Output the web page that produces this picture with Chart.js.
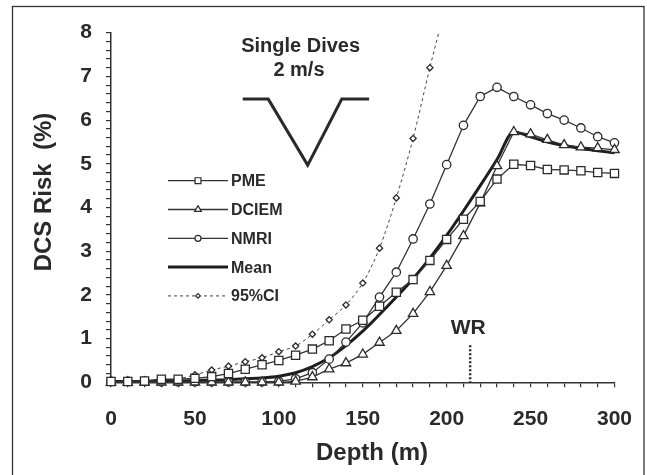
<!DOCTYPE html>
<html>
<head>
<meta charset="utf-8">
<script src="https://cdn.jsdelivr.net/npm/chart.js@4.4.0/dist/chart.umd.min.js"></script>
<style>
  html, body { margin: 0; padding: 0; background: #fff; }
  canvas { display: block; }
</style>
</head>
<body>
<canvas id="riskChart" width="647" height="475"></canvas>
<script>
// Depth (m) every 10 m
const depths = [0, 10, 20, 30, 40, 50, 60, 70, 80, 90, 100, 110, 120, 130, 140, 150,
  160, 170, 180, 190, 200, 210, 220, 230, 240, 250, 260, 270, 280, 290, 300];

// DCS risk (%)
const pme = [0.02, 0.02, 0.03, 0.07, 0.07, 0.09, 0.13, 0.2, 0.3, 0.4, 0.5, 0.62, 0.76, 0.95,
  1.22, 1.42, 1.74, 2.06, 2.35, 2.79, 3.27, 3.73, 4.14, 4.65, 4.99, 4.96, 4.87, 4.86, 4.84, 4.8, 4.78];
const dciem = [0, 0, 0, 0, 0, 0, 0, 0, 0, 0, 0, 0.02, 0.12, 0.3, 0.44, 0.64, 0.91, 1.18,
  1.57, 2.07, 2.67, 3.35, 4.1, 4.95, 5.73, 5.68, 5.55, 5.43, 5.38, 5.36, 5.32];
const nmri = [0.02, 0.02, 0.02, 0.01, 0.01, 0.01, 0.01, 0.01, 0.01, 0.01, 0.02, 0.08, 0.22,
  0.53, 0.92, 1.36, 1.95, 2.52, 3.28, 4.08, 4.98, 5.88, 6.54, 6.75, 6.54, 6.35, 6.15, 6.0, 5.82, 5.62, 5.48];
const meanRisk = [0.02, 0.02, 0.02, 0.03, 0.03, 0.04, 0.05, 0.06, 0.08, 0.1, 0.14, 0.22, 0.36,
  0.56, 0.84, 1.17, 1.55, 1.95, 2.37, 2.84, 3.36, 3.92, 4.5, 5.1, 5.73, 5.62, 5.5, 5.42, 5.35, 5.3, 5.25];
const ciDepths = [0, 10, 20, 30, 40, 50, 60, 70, 80, 90, 100, 110, 120, 130, 140, 150, 160, 170, 180, 190, 200];
const ci95 = [0.03, 0.03, 0.04, 0.05, 0.08, 0.17, 0.28, 0.37, 0.47, 0.56, 0.7, 0.83, 1.1, 1.43,
  1.77, 2.27, 3.07, 4.22, 5.58, 7.2, 8.7];

const seriesNames = ['PME', 'DCIEM', 'NMRI', 'Mean', '95%CI'];

// WR depth marker and the dive profile sketch (depth, risk units)
const wrDepth = 214;
const profileX = [78.5, 93.7, 117.2, 137.5, 153.8];
const profileY = [6.48, 6.48, 4.97, 6.48, 6.48];

const FONT = "'Liberation Sans', Arial, sans-serif";
const ink = '#2a2a2a';
const markClip = { left: 10, top: 0, right: 10, bottom: 10 };

function pts(ys, xs) {
  return ys.map((v, i) => ({ x: xs[i], y: v }));
}

const markerSeries = {
  borderColor: '#333',
  borderWidth: 1.3,
  pointBackgroundColor: '#fff',
  pointBorderColor: ink,
  pointBorderWidth: 1.3,
  tension: 0,
  clip: markClip
};

const decorPlugin = {
  id: 'decor',
  afterDraw(chart) {
    const { ctx, scales: { x, y } } = chart;
    ctx.save();

    // outer frame
    ctx.strokeStyle = '#333';
    ctx.lineWidth = 1.3;
    ctx.strokeRect(12.5, 6.5, 631.5, 500);

    ctx.fillStyle = ink;
    ctx.textAlign = 'center';
    ctx.textBaseline = 'middle';

    // axis titles
    ctx.save();
    ctx.translate(44, 192);
    ctx.rotate(-Math.PI / 2);
    ctx.font = 'bold 24px ' + FONT;
    ctx.fillText('DCS Risk  (%)', 0, 0);
    ctx.restore();
    ctx.font = 'bold 24px ' + FONT;
    ctx.fillText('Depth (m)', 372, 453);

    // inset label + profile
    ctx.font = 'bold 20px ' + FONT;
    ctx.fillText('Single Dives', x.getPixelForValue(113), y.getPixelForValue(7.68));
    ctx.fillText('2 m/s', x.getPixelForValue(112), y.getPixelForValue(7.13));
    ctx.strokeStyle = ink;
    ctx.lineWidth = 3;
    ctx.beginPath();
    profileX.forEach((d, i) => {
      const px = x.getPixelForValue(d), py = y.getPixelForValue(profileY[i]);
      if (i === 0) ctx.moveTo(px, py); else ctx.lineTo(px, py);
    });
    ctx.stroke();

    // WR marker
    const wx = x.getPixelForValue(wrDepth);
    ctx.font = 'bold 21px ' + FONT;
    ctx.fillText('WR', wx - 2, y.getPixelForValue(1.24));
    ctx.setLineDash([2, 2]);
    ctx.lineWidth = 2.5;
    ctx.beginPath();
    ctx.moveTo(wx, y.getPixelForValue(0.85));
    ctx.lineTo(wx, y.getPixelForValue(0));
    ctx.stroke();
    ctx.setLineDash([]);

    // legend
    ctx.font = 'bold 16px ' + FONT;
    ctx.textAlign = 'left';
    chart.data.datasets.forEach((ds, i) => {
      const ly = 180.7 + i * 28.8;
      ctx.strokeStyle = ds.borderColor;
      ctx.lineWidth = ds.borderWidth;
      ctx.setLineDash(ds.borderDash || []);
      ctx.beginPath();
      ctx.moveTo(168, ly);
      ctx.lineTo(228, ly);
      ctx.stroke();
      ctx.setLineDash([]);
      if (ds.pointRadius > 0) {
        ctx.fillStyle = '#fff';
        ctx.strokeStyle = ink;
        ctx.lineWidth = 1.2;
        Chart.helpers.drawPoint(ctx, {
          pointStyle: ds.pointStyle, radius: ds.pointRadius * 0.72,
          borderWidth: 1.2, rotation: 0
        }, 198, ly);
      }
      ctx.fillStyle = ink;
      ctx.fillText(ds.label, 231, ly + 1);
    });

    ctx.restore();
  }
};

new Chart(document.getElementById('riskChart'), {
  type: 'line',
  data: {
    datasets: [
      Object.assign({ label: seriesNames[0], data: pts(pme, depths), pointStyle: 'rect', pointRadius: 5.8 }, markerSeries),
      Object.assign({ label: seriesNames[1], data: pts(dciem, depths), pointStyle: 'triangle', pointRadius: 5.4 }, markerSeries),
      Object.assign({ label: seriesNames[2], data: pts(nmri, depths), pointStyle: 'circle', pointRadius: 4.2 }, markerSeries),
      {
        label: seriesNames[3], data: pts(meanRisk, depths),
        borderColor: '#1e1e1e', borderWidth: 3, pointRadius: 0,
        cubicInterpolationMode: 'monotone', clip: markClip
      },
      {
        label: seriesNames[4], data: pts(ci95, ciDepths),
        borderColor: '#444', borderWidth: 1, borderDash: [3, 3],
        pointStyle: 'rectRot', pointRadius: 3.1, pointBackgroundColor: '#fff',
        pointBorderColor: ink, pointBorderWidth: 1.3, tension: 0.3, clip: markClip
      }
    ]
  },
  options: {
    responsive: false,
    animation: false,
    layout: { padding: { top: 32.7, right: 32.5, left: 0, bottom: 0 } },
    plugins: {
      legend: { display: false },
      tooltip: { enabled: false }
    },
    scales: {
      x: {
        type: 'linear',
        min: 0,
        max: 300,
        afterFit: (s) => { s.height = 92.7; },
        border: { color: '#333', width: 1.5 },
        grid: { drawOnChartArea: false, tickLength: 5, color: '#333', lineWidth: 1.2 },
        ticks: {
          stepSize: 10, autoSkip: false, maxRotation: 0, padding: 15,
          color: ink, font: { family: FONT, size: 21, weight: 'bold', lineHeight: 1.6 },
          callback: (v) => (v % 50 === 0 ? String(v) : '')
        }
      },
      y: {
        min: 0,
        max: 8,
        afterFit: (s) => { s.width = 111; },
        border: { color: '#333', width: 1.5 },
        grid: { drawOnChartArea: false, tickLength: 5, color: '#333', lineWidth: 1.2 },
        ticks: {
          stepSize: 0.2, autoSkip: false, maxTicksLimit: 100, padding: 14,
          color: ink, font: { family: FONT, size: 21, weight: 'bold' },
          callback: (v) => (Math.abs(v - Math.round(v)) < 1e-6 ? String(Math.round(v)) : '')
        }
      }
    }
  },
  plugins: [decorPlugin]
});
</script>
</body>
</html>
